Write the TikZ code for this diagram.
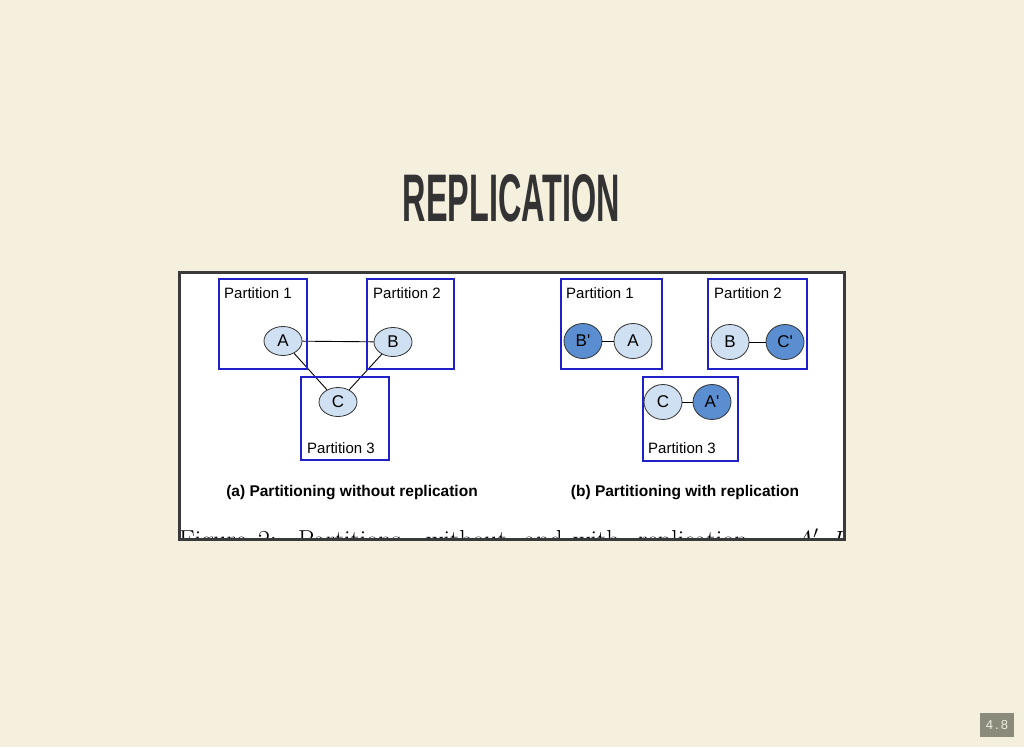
\documentclass[tikz,border=0pt]{standalone}
\usepackage{fontspec}
\usepackage{graphicx}
\usetikzlibrary{shapes.geometric}
\newfontfamily\arial{Liberation Sans}
\definecolor{slidebg}{HTML}{F5F0DE}
\definecolor{titlegrey}{HTML}{333333}
\definecolor{framegrey}{HTML}{3A3A3A}
\definecolor{partblue}{HTML}{2020C8}
\definecolor{origfill}{HTML}{CFE0F2}
\definecolor{replfill}{HTML}{5B8ED0}
\definecolor{nodeline}{HTML}{333333}
\definecolor{pagegrey}{HTML}{8B8B7B}
\definecolor{pagetext}{HTML}{EEEEE2}
\begin{document}
\begin{tikzpicture}[x=1pt, y=-1pt,
    part/.style={draw=partblue, line width=2pt},
    orig/.style={ellipse, draw=nodeline, thick, fill=origfill, inner sep=0pt,
        minimum width=38pt, minimum height=29pt, font=\arial\fontsize{17}{17}\selectfont},
    repl/.style={orig, fill=replfill},
    tall/.style={minimum height=35pt},
    edge/.style={draw=black, line width=0.9pt},
    plabel/.style={anchor=west, inner sep=0pt, font=\arial\fontsize{15}{15}\selectfont},
    subcap/.style={inner sep=0pt, font=\arial\bfseries\fontsize{15.5}{16}\selectfont},
    capword/.style={anchor=base west, inner sep=0pt, font=\fontsize{26}{31}\selectfont}]
    \fill[slidebg] (0,0) rectangle (1024,747);
    \useasboundingbox (0,0) rectangle (1024,747);

    \node[text=titlegrey, inner sep=0pt] (title) at (511.5,198.5)
        {\resizebox{217pt}{47pt}{\arial\bfseries REPLICATION}};

    \fill[white] (179.5,272.5) rectangle (844.5,539.5);
    \begin{scope}
        \clip (181,274) rectangle (843,538);
        \foreach \x/\w [count=\i] in {179/Figure, 258/{2:}, 298/Partitions, 426/without,
                                     524/and, 573/with, 638/{replication.}, 795/{$A'$,}, 832/{$B'$}} {
            \node[capword] (capw\i) at (\x,548) {\w};
        }
    \end{scope}
    \draw[framegrey, line width=3pt] (179.5,272.5) rectangle (844.5,539.5);

    \node[orig] (a) at (283,341) {A};
    \node[orig] (b) at (393,342) {B};
    \node[orig] (c) at (338,402) {C};
    \draw[edge] (a) -- (b);
    \draw[edge] (a) -- (c);
    \draw[edge] (b) -- (c);

    \node[repl, tall] (rbp) at (583,341) {B'};
    \node[orig, tall] (ra) at (633,341) {A};
    \node[orig, tall] (rb) at (730,342) {B};
    \node[repl, tall] (rcp) at (785,342) {C'};
    \node[orig, tall] (rc) at (663,402) {C};
    \node[repl, tall] (rap) at (712,402) {A'};
    \draw[edge] (rbp) -- (ra);
    \draw[edge] (rb) -- (rcp);
    \draw[edge] (rc) -- (rap);

    \foreach \xa/\ya/\xb/\yb in {219/279/307/369, 367/279/454/369, 301/377/389/460,
                                 561/279/662/369, 708/279/807/369, 643/377/738/461} {
        \draw[part] (\xa,\ya) rectangle (\xb,\yb);
    }

    \node[plabel] (lp1) at (224,293) {Partition 1};
    \node[plabel] (lp2) at (373,293) {Partition 2};
    \node[plabel] (lp3) at (307,448) {Partition 3};
    \node[plabel] (rp1) at (566,293) {Partition 1};
    \node[plabel] (rp2) at (714,293) {Partition 2};
    \node[plabel] (rp3) at (648,448) {Partition 3};

    \node[subcap] (capa) at (352,493) {(a) Partitioning without replication};
    \node[subcap] (capb) at (685,493) {(b) Partitioning with replication};

    \node[fill=pagegrey, text=pagetext, inner sep=0pt, minimum width=34pt, minimum height=24pt,
        font=\arial\fontsize{13}{13}\selectfont] (pagenum) at (997,725) {4\,.\,8};
\end{tikzpicture}
\end{document}
